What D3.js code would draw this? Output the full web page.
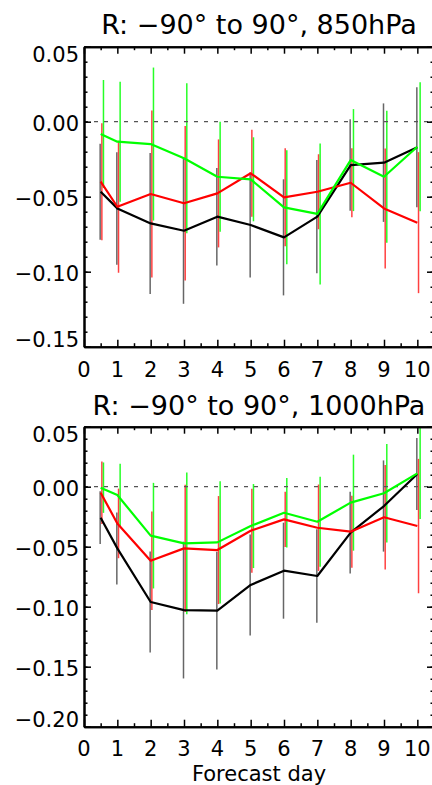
<!DOCTYPE html>
<html>
<head>
<meta charset="utf-8">
<script src="https://cdn.jsdelivr.net/npm/d3@7"></script>
<style>
  html, body { margin: 0; padding: 0; background: #fff; }
  svg { display: block; }
  text { font-family: "DejaVu Sans", sans-serif; fill: #000; }
</style>
</head>
<body>
<script>
// ---------- data ----------
const days = [0.5, 1, 2, 3, 4, 5, 6, 7, 8, 9, 10];
const xTicks = [0, 1, 2, 3, 4, 5, 6, 7, 8, 9, 10];

const titles = ["R: \u221290\u00b0 to 90\u00b0, 850hPa", "R: \u221290\u00b0 to 90\u00b0, 1000hPa"];
const xLabel = "Forecast day";

// 850 hPa panel
const blackMean850 = [-0.0467, -0.0578, -0.0678, -0.0727, -0.0633, -0.0689, -0.0771, -0.0633, -0.0289, -0.0273, -0.0171];
const blackSd850   = [0.032, 0.0375, 0.047, 0.0487, 0.0325, 0.035, 0.0387, 0.0378, 0.0305, 0.0395, 0.040];
const redMean850   = [-0.040, -0.0567, -0.0482, -0.0544, -0.0478, -0.0344, -0.0504, -0.0467, -0.0407, -0.0578, -0.0673];
const redSd850     = [0.039, 0.044, 0.0556, 0.0515, 0.036, 0.029, 0.0327, 0.025, 0.023, 0.040, 0.047];
const greenMean850 = [-0.0082, -0.0133, -0.0149, -0.0244, -0.0367, -0.0384, -0.0571, -0.0615, -0.0256, -0.0367, -0.0167];
const greenSd850   = [0.036, 0.040, 0.051, 0.050, 0.0367, 0.028, 0.038, 0.047, 0.034, 0.044, 0.043];
const yTicks850 = [0.05, 0.00, -0.05, -0.10, -0.15];

// 1000 hPa panel
const blackMean1000 = [-0.0258, -0.0514, -0.0961, -0.1028, -0.1033, -0.0819, -0.070, -0.0744, -0.0383, -0.0161, 0.0106];
const blackSd1000   = [0.022, 0.030, 0.042, 0.057, 0.049, 0.042, 0.040, 0.039, 0.034, 0.038, 0.030];
const redMean1000   = [-0.005, -0.0306, -0.0617, -0.0514, -0.0528, -0.0367, -0.0272, -0.0342, -0.0375, -0.0255, -0.0328];
const redSd1000     = [0.026, 0.029, 0.041, 0.053, 0.045, 0.035, 0.023, 0.036, 0.030, 0.0435, 0.056];
const greenMean1000 = [-0.0008, -0.0069, -0.0408, -0.0472, -0.0464, -0.0328, -0.0217, -0.0292, -0.0133, -0.0055, 0.0111];
const greenSd1000   = [0.021, 0.026, 0.044, 0.059, 0.051, 0.035, 0.029, 0.0375, 0.040, 0.041, 0.038];
const yTicks1000 = [0.05, 0.00, -0.05, -0.10, -0.15, -0.20];

// ---------- drawing ----------
const W = 432, H = 785;
const svg = d3.select("body").append("svg").attr("width", W).attr("height", H);

const x = d3.scaleLinear().domain([0, 10.5]).range([84, 434]);
const fmt = v => (v < -1e-9 ? "\u2212" : "") + Math.abs(v).toFixed(2);

const panels = [
  { title: titles[0], titleY: 34.3, domain: [-0.15, 0.05], range: [346.7, 46.7], yTicks: yTicks850,
    series: [
      { mean: blackMean850, sd: blackSd850, color: "#000", barOp: 0.6, off: -0.5 },
      { mean: redMean850, sd: redSd850, color: "#ff0000", barOp: 0.75, off: 1.2 },
      { mean: greenMean850, sd: greenSd850, color: "#00ff00", barOp: 0.85, off: 2.8 }
    ], xLabelY: 376.7 },
  { title: titles[1], titleY: 415, domain: [-0.20, 0.05], range: [726.7, 426.7], yTicks: yTicks1000,
    series: [
      { mean: blackMean1000, sd: blackSd1000, color: "#000", barOp: 0.6, off: -0.5 },
      { mean: redMean1000, sd: redSd1000, color: "#ff0000", barOp: 0.75, off: 1.2 },
      { mean: greenMean1000, sd: greenSd1000, color: "#00ff00", barOp: 0.85, off: 2.8 }
    ], xLabelY: 756 }
];

panels.forEach(p => {
  const y = d3.scaleLinear().domain(p.domain).range(p.range);
  const g = svg.append("g");
  const [x0, x1] = x.range();
  const yb = p.range[0], yt = p.range[1];

  // title
  g.append("text").attr("x", (x0 + x1) / 2).attr("y", p.titleY)
    .attr("text-anchor", "middle").style("font-size", "27px").text(p.title);

  // error bars
  p.series.forEach(s => {
    g.append("g").selectAll("line").data(days).join("line")
      .attr("x1", (d) => x(d) + s.off).attr("x2", (d) => x(d) + s.off)
      .attr("y1", (d, i) => y(Math.min(s.mean[i] + s.sd[i], p.domain[1])))
      .attr("y2", (d, i) => y(Math.max(s.mean[i] - s.sd[i], p.domain[0])))
      .attr("stroke", s.color).attr("stroke-width", 1.5).attr("stroke-opacity", s.barOp);
  });

  // zero dashed line
  g.append("line").attr("x1", x0).attr("x2", x1).attr("y1", y(0)).attr("y2", y(0))
    .attr("stroke", "#555").attr("stroke-width", 1.2).attr("stroke-dasharray", "4,6");

  // mean lines
  p.series.forEach(s => {
    const line = d3.line().x(d => x(d)).y((d, i) => y(s.mean[i]));
    g.append("path").datum(days).attr("d", line)
      .attr("fill", "none").attr("stroke", s.color).attr("stroke-width", 2.2)
      .attr("stroke-linejoin", "round");
  });

  // axes (ticks pointing inward)
  const minorX = d3.range(0.5, 10.51, 1);
  const minorY = d3.range(Math.round(p.domain[0] * 100), Math.round(p.domain[1] * 100) + 1).map(v => v / 100);
  const styleAxis = sel => {
    sel.selectAll("path.domain").attr("stroke", "#000").attr("stroke-width", 2);
    sel.selectAll(".tick line").attr("stroke", "#000").attr("stroke-width", 1.5);
    sel.selectAll(".tick text").remove();
  };
  // bottom
  g.append("g").attr("transform", `translate(0,${yb})`)
    .call(d3.axisBottom(x).tickValues(xTicks).tickSize(-7).tickSizeOuter(0)).call(styleAxis);
  g.append("g").attr("transform", `translate(0,${yb})`)
    .call(d3.axisBottom(x).tickValues(minorX).tickSize(-3.5).tickSizeOuter(0)).call(styleAxis);
  // top
  g.append("g").attr("transform", `translate(0,${yt})`)
    .call(d3.axisTop(x).tickValues(xTicks).tickSize(-7).tickSizeOuter(0)).call(styleAxis);
  g.append("g").attr("transform", `translate(0,${yt})`)
    .call(d3.axisTop(x).tickValues(minorX).tickSize(-3.5).tickSizeOuter(0)).call(styleAxis);
  // left
  g.append("g").attr("transform", `translate(${x0},0)`)
    .call(d3.axisLeft(y).tickValues(p.yTicks).tickSize(-7).tickSizeOuter(0)).call(styleAxis);
  g.append("g").attr("transform", `translate(${x0},0)`)
    .call(d3.axisLeft(y).tickValues(minorY).tickSize(-3.5).tickSizeOuter(0)).call(styleAxis);
  // right
  g.append("g").attr("transform", `translate(${x1},0)`)
    .call(d3.axisRight(y).tickValues(p.yTicks).tickSize(-7).tickSizeOuter(0)).call(styleAxis);
  g.append("g").attr("transform", `translate(${x1},0)`)
    .call(d3.axisRight(y).tickValues(minorY).tickSize(-3.5).tickSizeOuter(0)).call(styleAxis);

  // y tick labels
  const top = p.domain[1], bot = p.domain[0];
  g.append("g").selectAll("text").data(p.yTicks).join("text")
    .attr("x", 79).attr("text-anchor", "end").style("font-size", "21px")
    .attr("y", v => {
      if (Math.abs(v - top) < 1e-9) return y(v) + 15;
      if (Math.abs(v - bot) < 1e-9) return y(v) + 0.3;
      return y(v) + 9;
    })
    .text(fmt);

  // x tick labels
  g.append("g").selectAll("text").data(xTicks).join("text")
    .attr("x", d => x(d)).attr("y", p.xLabelY).attr("text-anchor", "middle")
    .style("font-size", "21px").text(d => d);
});

svg.append("text").attr("x", 259).attr("y", 780.7).attr("text-anchor", "middle")
  .style("font-size", "21px").text(xLabel);
</script>
</body>
</html>
